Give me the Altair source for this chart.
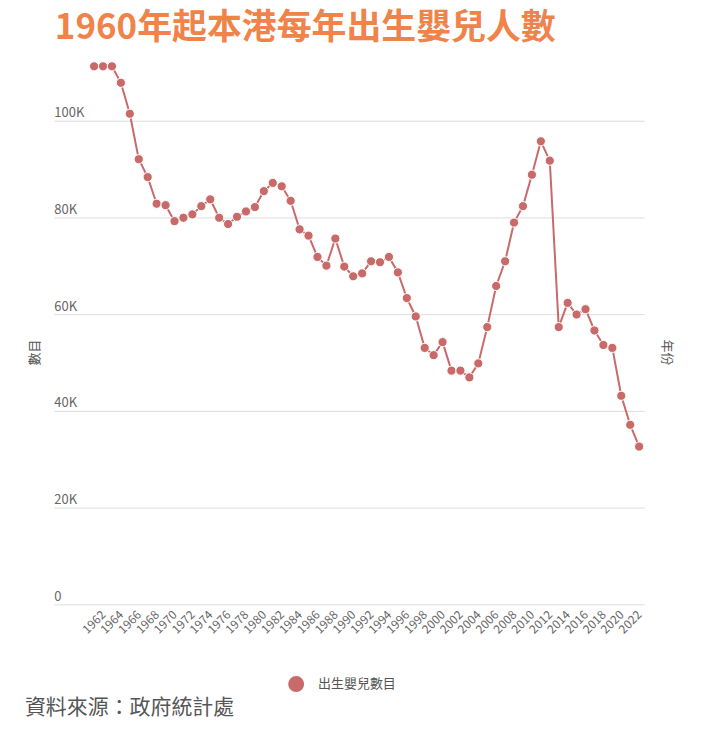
import altair as alt
import pandas as pd

years = list(range(1961, 2023))
births = [111200, 111200, 111200, 107800, 101400, 92000, 88300, 82800, 82500, 79200,
          79900, 80600, 82300, 83700, 79900, 78600, 80100, 81200, 82100, 85400,
          87100, 86400, 83400, 77500, 76200, 71800, 70000, 75600, 69800, 67800,
          68400, 70900, 70700, 71800, 68600, 63300, 59500, 53000, 51500, 54200,
          48300, 48300, 46900, 49800, 57300, 65800, 70900, 78900, 82300, 88800,
          95700, 91700, 57300, 62300, 59900, 61000, 56600, 53600, 53000, 43100,
          37100, 32600]
series_name = "出生嬰兒數目"
tick_years = list(range(1962, 2023, 2))
y_ticks = [0, 20000, 40000, 60000, 80000, 100000]

df = pd.DataFrame({"年份": years, "數目": births, "系列": [series_name] * len(years)})

FONT = "Noto Sans CJK TC"
COLOR = "#c96a6a"
W, H = 592, 558

x_enc = alt.X("年份:Q",
              scale=alt.Scale(domain=[1956.5, 2022.56], nice=False, zero=False),
              axis=alt.Axis(values=tick_years, format="d", labelAngle=-45,
                            labelAlign="right", labelBaseline="middle",
                            labelPadding=8, ticks=False, domain=False, grid=False,
                            labelOverlap=False,
                            labelFontSize=12, labelColor="#666", labelFont=FONT,
                            title="年份", titleAngle=90, titleX=614, titleY=-253,
                            titleAlign="center", titleBaseline="middle",
                            titleFontSize=13, titleFontWeight="normal",
                            titleColor="#555", titleFont=FONT))
y_enc = alt.Y("數目:Q",
              scale=alt.Scale(domain=[0, 115000], nice=False),
              axis=alt.Axis(values=y_ticks,
                            labelExpr="datum.value == 0 ? '0' : (datum.value / 1000) + 'K'",
                            labelAlign="left", labelBaseline="alphabetic",
                            labelPadding=0, tickSize=0, ticks=False, domain=False,
                            labelOffset=-4, labelFontSize=13, labelColor="#666",
                            labelFont=FONT, gridColor="#dddddd",
                            title="數目", titleX=-19, titleY=305,
                            titleAlign="center", titleBaseline="middle",
                            titleFontSize=13, titleFontWeight="normal",
                            titleColor="#555", titleFont=FONT))

base = alt.Chart(df)
line = base.mark_line(strokeWidth=2, color=COLOR).encode(x=x_enc, y=y_enc)
points = base.mark_circle(size=85, opacity=1, stroke="white", strokeWidth=1).encode(
    x=x_enc, y=y_enc,
    color=alt.Color("系列:N", scale=alt.Scale(domain=[series_name], range=[COLOR]),
                    legend=alt.Legend(title=None, orient="none", legendX=235, legendY=630,
                                      symbolType="circle", symbolSize=256,
                                      symbolStrokeWidth=0, labelFontSize=13,
                                      labelColor="#555", labelFont=FONT,
                                      labelOffset=14))
)
source = alt.Chart(pd.DataFrame({"t": ["資料來源：政府統計處"]})).mark_text(
    align="left", baseline="middle", fontSize=21, font=FONT, color="#555"
).encode(text="t:N", x=alt.value(-29), y=alt.value(662))

chart = alt.layer(line, points, source).properties(
    width=W, height=H,
    title=alt.TitleParams("1960年起本港每年出生嬰兒人數", anchor="start", frame="group",
                          font=FONT, fontSize=35, fontWeight="bold", color="#f0834a",
                          offset=2, dx=1),
    autosize=alt.AutoSizeParams(type="none"),
    padding={"left": 46, "top": 39, "right": 50, "bottom": 125},
).configure_view(stroke=None)

chart.save("out.html", embed_options={"renderer": "svg", "actions": False})
